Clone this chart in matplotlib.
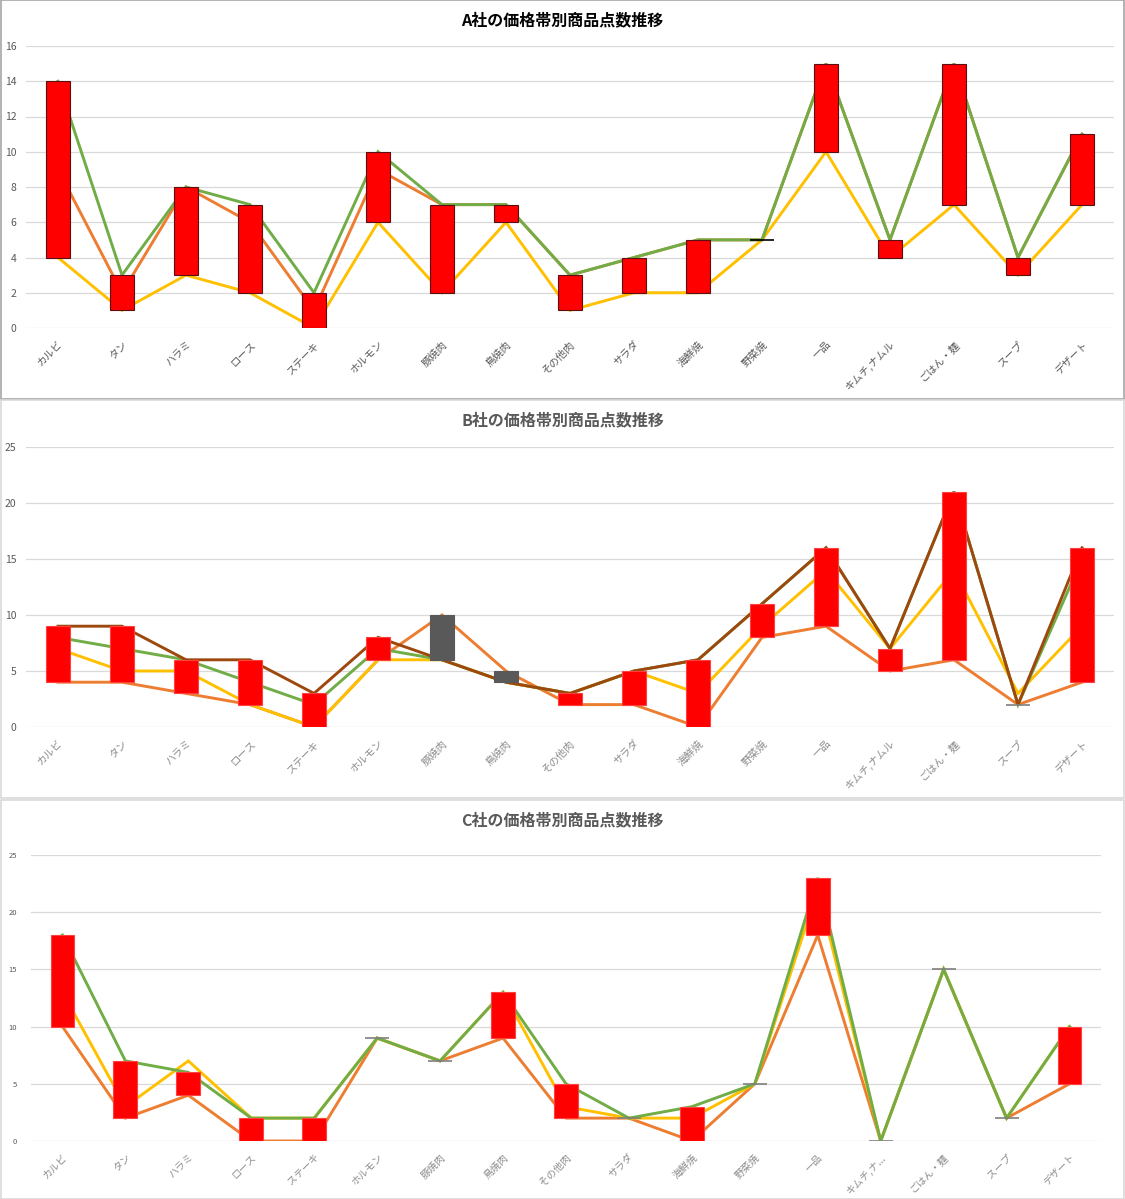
import matplotlib
matplotlib.use("Agg")
import matplotlib.pyplot as plt
from matplotlib.patches import Rectangle
import numpy as np

plt.rcParams['font.family'] = ['Noto Sans CJK JP', 'DejaVu Sans']

categories = ["カルビ", "タン", "ハラミ", "ロース", "ステーキ", "ホルモン", "豚焼肉", "鳥焼肉",
              "その他肉", "サラダ", "海鮮焼", "野菜焼", "一品", "キムチ,ナムル", "ごはん・麺", "スープ", "デザート"]
categories_c = categories[:13] + ["キムチ,ナ..."] + categories[14:]

# A社 (series order: yellow, orange, green)
a_yellow = [4, 1, 3, 2, 0, 6, 2, 6, 1, 2, 2, 5, 10, 4, 7, 3, 7]
a_orange = [9, 2, 8, 6, 1, 9, 7, 7, 3, 4, 5, 5, 15, 5, 15, 4, 11]
a_green = [14, 3, 8, 7, 2, 10, 7, 7, 3, 4, 5, 5, 15, 5, 15, 4, 11]

# B社 (series order: orange, yellow, green, brown)
b_orange = [4, 4, 3, 2, 0, 6, 10, 5, 2, 2, 0, 8, 9, 5, 6, 2, 4]
b_yellow = [7, 5, 5, 2, 0, 6, 6, 4, 3, 5, 3, 9, 14, 7, 14, 3, 9]
b_green = [8, 7, 6, 4, 2, 7, 6, 4, 3, 5, 6, 11, 16, 7, 21, 2, 15]
b_brown = [9, 9, 6, 6, 3, 8, 6, 4, 3, 5, 6, 11, 16, 7, 21, 2, 16]

# C社 (series order: orange, yellow, green)
c_orange = [10, 2, 4, 0, 0, 9, 7, 9, 2, 2, 0, 5, 18, 0, 15, 2, 5]
c_yellow = [13, 3, 7, 2, 2, 9, 7, 13, 3, 2, 2, 5, 22, 0, 15, 2, 10]
c_green = [18, 7, 6, 2, 2, 9, 7, 13, 5, 2, 3, 5, 23, 0, 15, 2, 10]

YELLOW = "#FFC000"
ORANGE = "#ED7D31"
GREEN = "#70AD47"
BROWN = "#9E480E"

W, H = 1125, 1199
fig = plt.figure(figsize=(W / 100, H / 100), dpi=100)


def px_axes(x0, x1, ytop, ybot):
    return fig.add_axes([x0 / W, 1 - ybot / H, (x1 - x0) / W, (ybot - ytop) / H])


def draw_panel(ax, series, colors, ymax, ystep, labels, tick_fs, ytick_fs, lab_color,
               title, title_y, title_color, bar_edge, down_edge, zero_color, bar_w, ypad):
    x = np.arange(len(labels))
    for s, c in zip(series, colors):
        ax.plot(x, s, color=c, lw=2.1, zorder=3, solid_joinstyle='miter')
    op = np.array(series[0])
    cl = np.array(series[-1])
    for i in range(len(x)):
        if cl[i] > op[i]:
            ax.bar(x[i], cl[i] - op[i], bottom=op[i], width=bar_w, color="#FF0000",
                   edgecolor=bar_edge, linewidth=0.8, zorder=4)
        elif cl[i] < op[i]:
            ax.bar(x[i], op[i] - cl[i], bottom=cl[i], width=bar_w, color="#595959",
                   edgecolor=down_edge, linewidth=0.8, zorder=4)
        else:
            ax.hlines(op[i], x[i] - bar_w / 2, x[i] + bar_w / 2, color=zero_color, lw=1.2, zorder=4)
    ax.set_xlim(-0.5, len(labels) - 0.5)
    ax.set_ylim(0, ymax)
    ax.set_yticks(np.arange(0, ymax + 0.1, ystep))
    ax.yaxis.grid(True, color="#D9D9D9", lw=0.9, zorder=0)
    ax.set_axisbelow(True)
    for sp in ax.spines.values():
        sp.set_visible(False)
    ax.tick_params(axis='both', length=0)
    ax.tick_params(axis='y', labelsize=ytick_fs, labelcolor="#595959", pad=ypad)
    ax.set_xticks(x)
    ax.set_xticklabels(labels, rotation=45, ha='right', va='top', rotation_mode='anchor',
                       fontsize=tick_fs, color=lab_color)
    ax.tick_params(axis='x', pad=8)
    fig.text(0.5, 1 - title_y / H, title, ha='center', va='center', fontsize=11.5,
             fontweight='bold', color=title_color)


axA = px_axes(26, 1114, 46, 328)
draw_panel(axA, [a_yellow, a_orange, a_green], [YELLOW, ORANGE, GREEN], 16, 2, categories,
           7.5, 7.5, "#595959", "A社の価格帯別商品点数推移", 20, "#000000", "#5a1010", "#5a1010",
           "#000000", 0.39, 7)

axB = px_axes(26, 1114, 447, 727)
draw_panel(axB, [b_orange, b_yellow, b_green, b_brown], [ORANGE, YELLOW, GREEN, BROWN], 25, 5,
           categories, 7.5, 7.5, "#8C8C8C", "B社の価格帯別商品点数推移", 420, "#595959", "#FF4040",
           "#595959", "#7F7F7F", 0.38, 7)

axC = px_axes(31, 1101, 855, 1141)
draw_panel(axC, [c_orange, c_yellow, c_green], [ORANGE, YELLOW, GREEN], 25, 5,
           categories_c, 7.2, 5.5, "#8C8C8C", "C社の価格帯別商品点数推移", 820, "#595959", "#FF4040",
           "#595959", "#7F7F7F", 0.38, 10)

# panel borders
for (y0, y1, col) in [(0.5, 399, "#A6A6A6"), (400, 798, "#D9D9D9"), (800, 1198.5, "#D9D9D9")]:
    fig.patches.append(Rectangle((0.5 / W, 1 - y1 / H), (W - 1.5) / W, (y1 - y0) / H,
                                 transform=fig.transFigure, fill=False, edgecolor=col, lw=1.2))

fig.savefig("out.png", dpi=100)
